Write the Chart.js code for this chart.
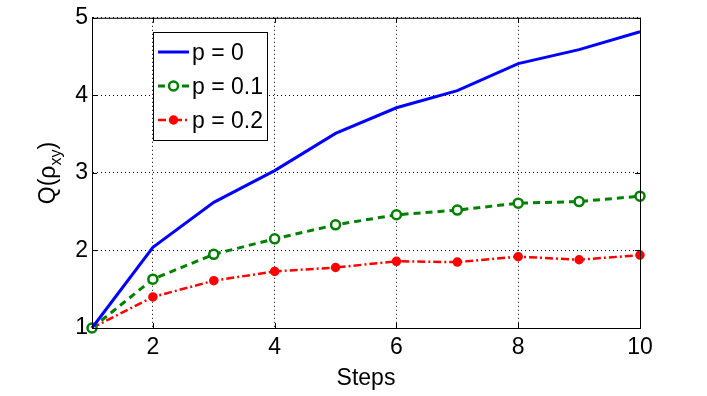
<!DOCTYPE html>
<html>
<head>
<meta charset="utf-8">
<script src="https://cdn.jsdelivr.net/npm/chart.js@4.4.1/dist/chart.umd.min.js"></script>
<style>
  html, body { margin: 0; padding: 0; background: #fff; }
  canvas { display: block; }
</style>
</head>
<body>
<canvas id="qChart" width="707" height="396"></canvas>
<script>
const steps = [1, 2, 3, 4, 5, 6, 7, 8, 9, 10];
const pZero = [1.00, 2.04, 2.62, 3.03, 3.51, 3.84, 4.06, 4.41, 4.59, 4.82];
const pOne = [1.00, 1.63, 1.95, 2.15, 2.33, 2.46, 2.52, 2.61, 2.63, 2.70];
const pTwo = [1.00, 1.40, 1.61, 1.73, 1.78, 1.86, 1.85, 1.92, 1.88, 1.94];
const xTicks = [2, 4, 6, 8, 10];
const yTicks = [1, 2, 3, 4, 5];
const seriesLabels = ['p = 0', 'p = 0.1', 'p = 0.2'];

const FONT = '"Liberation Sans", Arial, sans-serif';

function toPoints(ys) {
  return steps.map((x, i) => ({ x: x, y: ys[i] }));
}

const seriesStyles = [
  { color: '#0000ff', width: 3, dash: [], radius: 0, fill: '#0000ff' },
  { color: '#008000', width: 3, dash: [7, 5], radius: 4.5, fill: '#ffffff' },
  { color: '#ff0000', width: 2.5, dash: [8, 3, 2, 3], radius: 3.5, fill: '#ff0000' }
];

// box, inward ticks, y title with subscript, MATLAB style legend
const matlabBits = {
  id: 'matlabBits',
  afterDraw(chart) {
    const ctx = chart.ctx;
    const a = chart.chartArea;
    const xs = chart.scales.x;
    const ys = chart.scales.y;
    ctx.save();
    ctx.strokeStyle = '#000';
    ctx.lineWidth = 1;
    ctx.setLineDash([]);
    ctx.strokeRect(a.left + 0.5, a.top + 0.5, a.right - a.left, a.bottom - a.top);
    ctx.beginPath();
    xTicks.forEach(v => {
      const px = Math.round(xs.getPixelForValue(v)) + 0.5;
      ctx.moveTo(px, a.bottom); ctx.lineTo(px, a.bottom - 5);
      ctx.moveTo(px, a.top); ctx.lineTo(px, a.top + 5);
    });
    yTicks.forEach(v => {
      const py = Math.round(ys.getPixelForValue(v)) + 0.5;
      ctx.moveTo(a.left, py); ctx.lineTo(a.left + 5, py);
      ctx.moveTo(a.right, py); ctx.lineTo(a.right - 5, py);
    });
    ctx.stroke();

    // y axis title Q(ρ_xy)
    ctx.translate(47, (a.top + a.bottom) / 2);
    ctx.rotate(-Math.PI / 2);
    ctx.fillStyle = '#000';
    ctx.textBaseline = 'alphabetic';
    ctx.font = '23px ' + FONT;
    const w1 = ctx.measureText('Q(ρ').width;
    ctx.font = '16px ' + FONT;
    const w2 = ctx.measureText('xy').width;
    ctx.font = '23px ' + FONT;
    let start = -(w1 + w2 + 8) / 2;
    ctx.fillText('Q(ρ', start, 8);
    ctx.font = '16px ' + FONT;
    ctx.fillText('xy', start + w1, 14);
    ctx.font = '23px ' + FONT;
    ctx.fillText(')', start + w1 + w2, 8);
    ctx.restore();

    // legend
    ctx.save();
    ctx.fillStyle = '#fff';
    ctx.fillRect(153, 32, 114, 108);
    ctx.strokeStyle = '#000';
    ctx.lineWidth = 1;
    ctx.strokeRect(153.5, 32.5, 114, 108);
    const rows = [52, 86, 120];
    seriesStyles.forEach((s, i) => {
      const y = rows[i];
      ctx.strokeStyle = s.color;
      ctx.lineWidth = s.width;
      ctx.setLineDash(s.dash);
      ctx.beginPath();
      ctx.moveTo(158, y);
      ctx.lineTo(189, y);
      ctx.stroke();
      ctx.setLineDash([]);
      if (s.radius > 0) {
        ctx.beginPath();
        ctx.arc(173.5, y, s.radius, 0, Math.PI * 2);
        ctx.fillStyle = s.fill;
        ctx.fill();
        ctx.lineWidth = 2.5;
        ctx.strokeStyle = s.color;
        ctx.stroke();
      }
      ctx.fillStyle = '#000';
      ctx.font = '23px ' + FONT;
      ctx.textBaseline = 'middle';
      ctx.fillText(seriesLabels[i], 192, y + 2);
    });
    ctx.restore();
  }
};

const datasets = [pZero, pOne, pTwo].map((vals, i) => {
  const s = seriesStyles[i];
  return {
    label: seriesLabels[i],
    data: toPoints(vals),
    borderColor: s.color,
    borderWidth: s.width,
    borderDash: s.dash,
    pointRadius: s.radius,
    pointBackgroundColor: s.fill,
    pointBorderColor: s.color,
    pointBorderWidth: 2.5,
    tension: 0,
    clip: false
  };
});

new Chart(document.getElementById('qChart').getContext('2d'), {
  type: 'line',
  data: { datasets: datasets },
  plugins: [matlabBits],
  options: {
    responsive: false,
    animation: false,
    layout: { padding: { left: 0, right: 67, top: 17, bottom: 0 } },
    plugins: {
      legend: { display: false },
      tooltip: { enabled: false }
    },
    scales: {
      x: {
        type: 'linear',
        min: 1,
        max: 10,
        afterBuildTicks: scale => { scale.ticks = xTicks.map(v => ({ value: v })); },
        afterFit: scale => { scale.height = 68; },
        grid: { color: '#000', lineWidth: 1, drawTicks: false },
        border: { display: true, color: '#000', dash: [1, 3] },
        ticks: { color: '#000', font: { family: FONT, size: 23 }, padding: 6, maxRotation: 0 },
        title: {
          display: true,
          text: 'Steps',
          color: '#000',
          font: { family: FONT, size: 23 },
          padding: { top: 0, bottom: 4 }
        }
      },
      y: {
        min: 1,
        max: 5,
        afterBuildTicks: scale => { scale.ticks = yTicks.map(v => ({ value: v })); },
        afterFit: scale => { scale.width = 92; },
        grid: { color: '#000', lineWidth: 1, drawTicks: false },
        border: { display: true, color: '#000', dash: [1, 3] },
        ticks: { color: '#000', font: { family: FONT, size: 23 }, padding: 4 }
      }
    }
  }
});
</script>
</body>
</html>
